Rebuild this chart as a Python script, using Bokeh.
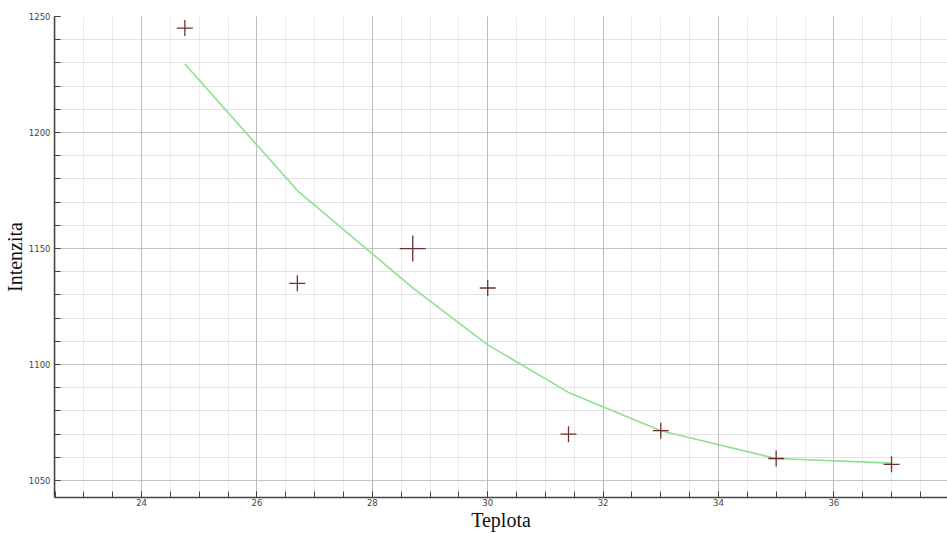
from bokeh.plotting import figure
from bokeh.models import SingleIntervalTicker, ColumnDataSource, Range1d
from bokeh.embed import file_html
from bokeh.resources import INLINE

# data
teplota = [24.75, 26.7, 28.7, 30.0, 31.4, 33.0, 35.0, 37.0]
intenzita = [1245, 1135, 1150, 1133, 1070, 1071.5, 1059.5, 1057]
fit = [1229.5, 1175, 1133, 1108.5, 1088, 1071.5, 1059.5, 1057.5]
marker_px = [16, 16, 26, 16, 16, 16, 16, 16]

x_title = "Teplota"
y_title = "Intenzita"

p = figure(width=947, height=533, output_backend="svg", toolbar_location=None,
           x_range=Range1d(22.49, 37.97), y_range=Range1d(1042.7, 1250),
           min_border_left=53, min_border_top=16, min_border_right=0, min_border_bottom=34)
p.outline_line_color = None
p.background_fill_color = "white"
p.border_fill_color = "white"

p.xaxis.ticker = SingleIntervalTicker(interval=2, num_minor_ticks=4)
p.yaxis.ticker = SingleIntervalTicker(interval=50, num_minor_ticks=5)

for ax in (p.xaxis, p.yaxis):
    ax.axis_line_color = "#444444"
    ax.axis_line_width = 1.5
    ax.major_tick_line_color = "#444444"
    ax.minor_tick_line_color = "#444444"
    ax.major_tick_in = 6
    ax.major_tick_out = 0
    ax.minor_tick_in = 6
    ax.minor_tick_out = 0
    ax.major_label_text_font = "DejaVu Sans"
    ax.major_label_text_font_size = "8.5px"
    ax.major_label_text_color = "#444444"
    ax.axis_label_text_font = "Liberation Serif"
    ax.axis_label_text_font_size = "20px"
    ax.axis_label_text_font_style = "normal"
    ax.axis_label_text_color = "#111111"
    ax.axis_label_standoff = 0
p.xaxis.major_label_standoff = 1
p.yaxis.major_label_standoff = 4
p.xaxis.axis_label = x_title
p.yaxis.axis_label = y_title

p.xgrid.grid_line_color = "#8c8c8c"
p.xgrid.grid_line_dash = "1 1"
p.xgrid.minor_grid_line_color = "#d6d6d6"
p.xgrid.minor_grid_line_dash = "1 1"
p.ygrid.grid_line_color = "#a8a8a8"
p.ygrid.grid_line_dash = "1 1"
p.ygrid.minor_grid_line_color = "#c4c4c4"
p.ygrid.minor_grid_line_dash = "1 1"

src = ColumnDataSource(dict(x=teplota, y=intenzita, fit=fit, s=marker_px))
p.line("x", "fit", source=src, line_color="#8fe08f", line_width=1.6)
p.scatter("x", "y", source=src, marker="cross", size="s", line_color="#6e3030", line_width=1.3)

open("out.html", "w").write(file_html(p, INLINE))
